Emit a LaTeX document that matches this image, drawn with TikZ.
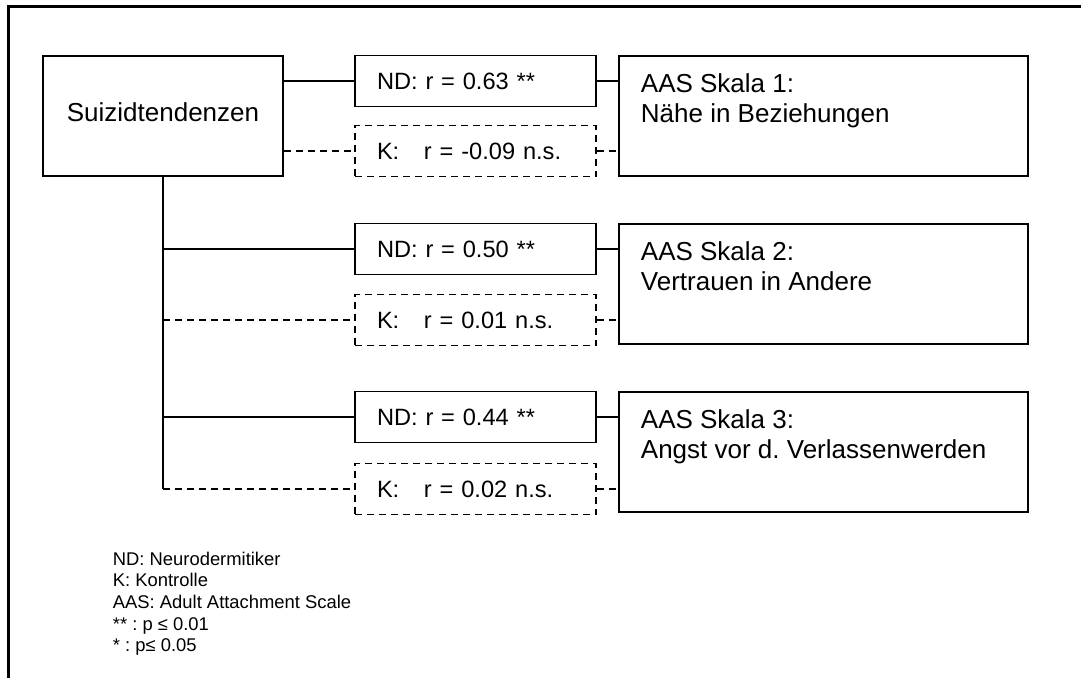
\documentclass[tikz,border=0pt]{standalone}
\usepackage{fontspec}
\setmainfont{Liberation Sans}
\usepackage{tikz}
\usetikzlibrary{calc,positioning}
\frenchspacing

\begin{document}
\begin{tikzpicture}[x=1pt,y=-1pt,
  line width=1.8pt,
  bigbox/.style={draw,minimum width=240pt,minimum height=120pt,inner sep=0pt},
  scalebox/.style={draw,minimum width=409pt,minimum height=120pt,inner sep=0pt},
  ndbox/.style={draw,minimum width=241pt,minimum height=51pt,inner xsep=22pt,inner ysep=0pt,text width=197pt,align=left,font=\fontsize{23.6}{28}\selectfont},
  kbox/.style={ndbox,dash pattern=on 7pt off 5pt},
  kline/.style={dash pattern=on 7pt off 5pt},
  scaletext/.style={anchor=north west,inner sep=0pt,align=left,font=\fontsize{26}{30}\selectfont}]
\clip (0,0) rectangle (1081,677);
\draw[line width=3pt] (8,700) -- (8,7) -- (1100,7);

\node[bigbox,font=\fontsize{26}{30}\selectfont,text depth=8pt] (s) at (163,116) {Suizidtendenzen};

\node[ndbox] (nd1) at (475.5,81) {ND: r = 0.63 **};
\node[kbox] (k1) at (475.5,151) {\makebox[47pt][l]{K:}r = -0.09 n.s.};
\node[scalebox] (a1) at (823.5,116) {};
\node[scaletext] (a1txt) at (640,73) {AAS Skala 1:\\Nähe in Beziehungen};

\node[ndbox] (nd2) at (475.5,249) {ND: r = 0.50 **};
\node[kbox] (k2) at (475.5,320) {\makebox[47pt][l]{K:}r = 0.01 n.s.};
\node[scalebox] (a2) at (823.5,284) {};
\node[scaletext] (a2txt) at (640,241) {AAS Skala 2:\\Vertrauen in Andere};

\node[ndbox] (nd3) at (475.5,417) {ND: r = 0.44 **};
\node[kbox] (k3) at (475.5,489) {\makebox[47pt][l]{K:}r = 0.02 n.s.};
\node[scalebox] (a3) at (823.5,452) {};
\node[scaletext] (a3txt) at (640,409) {AAS Skala 3:\\Angst vor d. Verlassenwerden};

\draw (s.east |- nd1.west) -- (nd1.west);
\draw[kline] (s.east |- k1.west) -- (k1.west);
\draw (s.south) -- (s.south |- k3.west);
\draw (s.south |- nd2.west) -- (nd2.west);
\draw[kline] (s.south |- k2.west) -- (k2.west);
\draw (s.south |- nd3.west) -- (nd3.west);
\draw[kline] (s.south |- k3.west) -- (k3.west);

\draw (nd1.east) -- (nd1.east -| a1.west);
\draw[kline] (k1.east) -- (k1.east -| a1.west);
\draw (nd2.east) -- (nd2.east -| a2.west);
\draw[kline] (k2.east) -- (k2.east -| a2.west);
\draw (nd3.east) -- (nd3.east -| a3.west);
\draw[kline] (k3.east) -- (k3.east -| a3.west);

\node[anchor=north west,inner sep=0pt,align=left,font=\fontsize{18.4}{21.6}\selectfont] (legend) at (112,551)
  {ND: Neurodermitiker\\K: Kontrolle\\AAS: Adult Attachment Scale\\** : p ≤ 0.01\\* : p≤ 0.05};
\end{tikzpicture}
\end{document}
